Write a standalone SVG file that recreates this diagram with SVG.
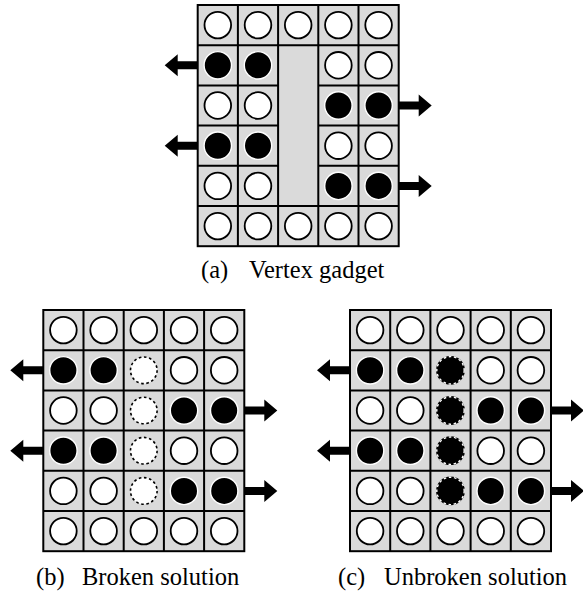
<svg xmlns="http://www.w3.org/2000/svg" xmlns:xlink="http://www.w3.org/1999/xlink" width="583" height="597" viewBox="0 0 583 597">
<style>
.bg{fill:#dadada;stroke:none}
.ln{fill:none;stroke:#000;stroke-width:2}
.bd{fill:none;stroke:#000;stroke-width:2}
.cap{font-family:"Liberation Serif","Times New Roman",serif;font-size:24.5px;fill:#000}
.arr{fill:#000}
</style>
<defs>
<circle id="w" r="13.3" fill="#fff" stroke="#000" stroke-width="1.8"/>
<circle id="b" r="13.7" fill="#000" stroke="#fff" stroke-width="1.4"/>
<circle id="dw" r="13.3" fill="#fff" stroke="#000" stroke-width="1.6" stroke-dasharray="2.6 2.6"/>
<g id="db"><circle r="13.7" fill="#000" stroke="#000" stroke-width="1.4"/><circle r="13.7" fill="none" stroke="#fff" stroke-width="1.4" stroke-dasharray="2.6 2.6"/></g>
<path id="al" d="M0,-4 H-20 V-11 L-33,0 L-20,11 V4 H0 Z"/>
<path id="ar" d="M0,-4 H20 V-11 L33,0 L20,11 V4 H0 Z"/>
<g id="side">
<use href="#w" x="20.1" y="20.1"/><use href="#w" x="60.3" y="20.1"/><use href="#w" x="100.5" y="20.1"/><use href="#w" x="140.7" y="20.1"/><use href="#w" x="180.9" y="20.1"/>
<use href="#b" x="20.1" y="60.3"/><use href="#b" x="60.3" y="60.3"/><use href="#w" x="140.7" y="60.3"/><use href="#w" x="180.9" y="60.3"/>
<use href="#w" x="20.1" y="100.5"/><use href="#w" x="60.3" y="100.5"/><use href="#b" x="140.7" y="100.5"/><use href="#b" x="180.9" y="100.5"/>
<use href="#b" x="20.1" y="140.7"/><use href="#b" x="60.3" y="140.7"/><use href="#w" x="140.7" y="140.7"/><use href="#w" x="180.9" y="140.7"/>
<use href="#w" x="20.1" y="180.9"/><use href="#w" x="60.3" y="180.9"/><use href="#b" x="140.7" y="180.9"/><use href="#b" x="180.9" y="180.9"/>
<use href="#w" x="20.1" y="221.1"/><use href="#w" x="60.3" y="221.1"/><use href="#w" x="100.5" y="221.1"/><use href="#w" x="140.7" y="221.1"/><use href="#w" x="180.9" y="221.1"/>
</g>
</defs>

<g id="panel-a" transform="translate(197.7,5)">
<rect class="bg" width="201" height="241.2"/>
<path class="ln" d="M40.2,0V241.2M80.4,0V241.2M120.6,0V241.2M160.8,0V241.2M0,40.2H201M0,201H201M0,80.4H80.4M120.6,80.4H201M0,120.6H80.4M120.6,120.6H201M0,160.8H80.4M120.6,160.8H201"/>
<rect class="bd" width="201" height="241.2"/>
<use href="#side"/>
</g>

<g id="panel-b" transform="translate(43.3,310)">
<rect class="bg" width="201" height="241.2"/>
<path class="ln" d="M40.2,0V241.2M80.4,0V241.2M120.6,0V241.2M160.8,0V241.2M0,40.2H201M0,80.4H201M0,120.6H201M0,160.8H201M0,201H201"/>
<rect class="bd" width="201" height="241.2"/>
<use href="#side"/>
<use href="#dw" x="100.5" y="60.3"/><use href="#dw" x="100.5" y="100.5"/><use href="#dw" x="100.5" y="140.7"/><use href="#dw" x="100.5" y="180.9"/>
</g>

<g id="panel-c" transform="translate(350,310)">
<rect class="bg" width="201" height="241.2"/>
<path class="ln" d="M40.2,0V241.2M80.4,0V241.2M120.6,0V241.2M160.8,0V241.2M0,40.2H201M0,80.4H201M0,120.6H201M0,160.8H201M0,201H201"/>
<rect class="bd" width="201" height="241.2"/>
<use href="#side"/>
<use href="#db" x="100.5" y="60.3"/><use href="#db" x="100.5" y="100.5"/><use href="#db" x="100.5" y="140.7"/><use href="#db" x="100.5" y="180.9"/>
</g>

<g id="connectors" class="arr">
<g transform="translate(197.7,5)"><use href="#al" x="0" y="60.3"/><use href="#al" x="0" y="140.7"/><use href="#ar" x="201" y="100.5"/><use href="#ar" x="201" y="180.9"/></g>
<g transform="translate(43.3,310)"><use href="#al" x="0" y="60.3"/><use href="#al" x="0" y="140.7"/><use href="#ar" x="201" y="100.5"/><use href="#ar" x="201" y="180.9"/></g>
<g transform="translate(350,310)"><use href="#al" x="0" y="60.3"/><use href="#al" x="0" y="140.7"/><use href="#ar" x="201" y="100.5"/><use href="#ar" x="201" y="180.9"/></g>
</g>

<g id="captions">
<text class="cap" y="278"><tspan x="201">(a)</tspan><tspan x="249">Vertex gadget</tspan></text>
<text class="cap" y="585"><tspan x="36">(b)</tspan><tspan x="82">Broken solution</tspan></text>
<text class="cap" y="585"><tspan x="338">(c)</tspan><tspan x="384">Unbroken solution</tspan></text>
</g>
</svg>
